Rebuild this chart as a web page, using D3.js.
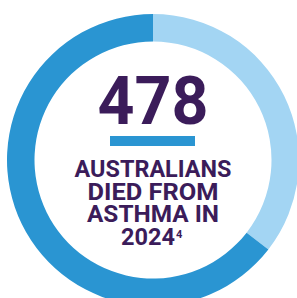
<!DOCTYPE html>
<html><head><meta charset="utf-8">
<script src="https://cdn.jsdelivr.net/npm/d3@7"></script>
<style>html,body{margin:0;padding:0;background:#fff;overflow:hidden}</style>
</head><body>
<svg id="c" width="297" height="298"></svg>
<script>
const categories = ["Share A", "Share B"];
const values = [35.5, 64.5];
const colors = ["#a3d5f3", "#2a95d2"];
const headline = "478";
const captionLines = ["AUSTRALIANS", "DIED FROM", "ASTHMA IN", "2024"];
const footnote = "4";

const svg = d3.select("#c");
const cx = 153, cy = 160, R = 146, r = 118.5;
const pie = d3.pie().sort(null).value(d => d)(values);
const arc = d3.arc().innerRadius(r).outerRadius(R);
const g = svg.append("g").attr("transform", `translate(${cx},${cy})`);
g.selectAll("path").data(pie).join("path").attr("d", arc).attr("fill", (d, i) => colors[i]);

const purple = "#3b1c5a";
const font = "Roboto, 'DejaVu Sans', sans-serif";
svg.append("text").attr("x", cx).attr("y", 124).attr("text-anchor", "middle")
  .attr("font-family", font).attr("font-weight", 700).attr("font-size", 66)
  .attr("fill", purple).attr("textLength", 111).attr("lengthAdjust", "spacingAndGlyphs").text(headline);
svg.append("rect").attr("x", 110).attr("y", 136).attr("width", 85).attr("height", 10).attr("fill", "#2a95d2");

const lineY = [177, 199.5, 221.5, 245];
const lineW = [157, 131, 132, 54];
captionLines.forEach((t, i) => {
  svg.append("text").attr("x", i < 3 ? cx : 121).attr("y", lineY[i])
    .attr("text-anchor", i < 3 ? "middle" : "start")
    .attr("font-family", font).attr("font-weight", 700).attr("font-size", 23.5).attr("fill", purple)
    .attr("textLength", lineW[i]).attr("lengthAdjust", "spacingAndGlyphs").text(t);
});
svg.append("text").attr("x", 176).attr("y", 238).attr("font-family", font).attr("font-weight", 700)
  .attr("font-size", 11).attr("fill", purple).text(footnote);
</script>
</body></html>
